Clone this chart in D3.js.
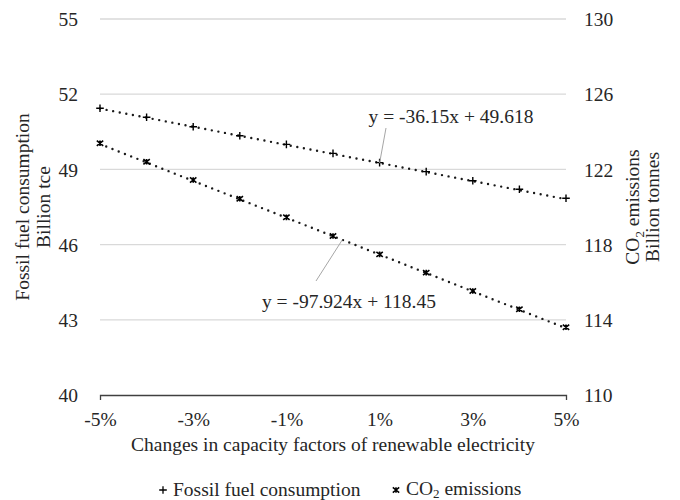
<!DOCTYPE html>
<html>
<head>
<meta charset="utf-8">
<script src="https://cdn.jsdelivr.net/npm/d3@7"></script>
<style>
  html, body { margin: 0; padding: 0; background: #fff; }
</style>
</head>
<body>
<svg id="chart" width="680" height="500"></svg>
<script>
// Change in renewable capacity factor (fraction)
const changes = [-0.05, -0.04, -0.03, -0.02, -0.01, 0, 0.01, 0.02, 0.03, 0.04, 0.05];
// Fossil fuel consumption, billion tce (left axis)
const fossilFuel = [51.44, 51.08, 50.70, 50.34, 50.00, 49.64, 49.27, 48.91, 48.55, 48.21, 47.85];
// CO2 emissions, billion tonnes (right axis)
const co2Emissions = [123.39, 122.41, 121.44, 120.44, 119.45, 118.46, 117.48, 116.51, 115.53, 114.56, 113.60];

// Linear trend coefficients as printed on the chart
const fossilTrend = [-36.15, 49.618];
const co2Trend = [-97.924, 118.45];

const xTicks = [-0.05, -0.03, -0.01, 0.01, 0.03, 0.05];
const leftTicks = [40, 43, 46, 49, 52, 55];
const rightTicks = [110, 114, 118, 122, 126, 130];

const FONT = "'Liberation Serif', 'Times New Roman', serif";
const FS = "19.5px";
const INK = "#262626";

const svg = d3.select("#chart")
  .attr("font-family", FONT)
  .style("font-family", FONT);
const plot = { left: 100, right: 566, top: 19, bottom: 395 };

const x = d3.scaleLinear().domain([-0.05, 0.05]).range([plot.left, plot.right]);
const yL = d3.scaleLinear().domain([40, 55]).range([plot.bottom, plot.top]);
const yR = d3.scaleLinear().domain([110, 130]).range([plot.bottom, plot.top]);

function styleText(sel) {
  return sel.attr("font-family", FONT).style("font-family", FONT)
    .style("font-size", FS).attr("fill", INK);
}

// Gridlines
svg.append("g").selectAll("line")
  .data(leftTicks.slice(1))
  .join("line")
  .attr("x1", plot.left).attr("x2", plot.right)
  .attr("y1", d => yL(d)).attr("y2", d => yL(d))
  .attr("stroke", "#d9d9d9").attr("stroke-width", 1.3);

// Bottom axis with end ticks only
const xAxis = svg.append("g")
  .attr("transform", `translate(0,${plot.bottom})`)
  .call(d3.axisBottom(x).tickValues(xTicks).tickSizeInner(0).tickSizeOuter(5)
    .tickFormat(d => Math.round(d * 100) + "%"));
xAxis.attr("font-family", FONT);
xAxis.select(".domain").attr("stroke", "#404040").attr("stroke-width", 1.3);
xAxis.selectAll(".tick line").remove();
styleText(xAxis.selectAll(".tick text").attr("y", 31).attr("dy", 0));

// Left axis labels
const lAxis = svg.append("g")
  .attr("transform", `translate(${plot.left},0)`)
  .call(d3.axisLeft(yL).tickValues(leftTicks).tickSize(0).tickPadding(22));
lAxis.attr("font-family", FONT);
lAxis.select(".domain").remove();
styleText(lAxis.selectAll(".tick text").attr("dy", "0.34em"));

// Right axis labels
const rAxis = svg.append("g")
  .attr("transform", `translate(${plot.right},0)`)
  .call(d3.axisRight(yR).tickValues(rightTicks).tickSize(0).tickPadding(18));
rAxis.attr("font-family", FONT);
rAxis.select(".domain").remove();
styleText(rAxis.selectAll(".tick text").attr("dy", "0.34em"));

// Trend lines (round dots)
function trendLine(coef, yScale) {
  const [m, b] = coef;
  const pts = d3.extent(changes).map(c => [x(c), yScale(m * c + b)]);
  svg.append("path")
    .attr("d", d3.line()(pts))
    .attr("fill", "none")
    .attr("stroke", "#1a1a1a")
    .attr("stroke-width", 2.4)
    .attr("stroke-linecap", "round")
    .attr("stroke-dasharray", "0 6.7");
}
trendLine(fossilTrend, yL);
trendLine(co2Trend, yR);

// Marker shapes
const plusPath = "M-3.8,0H3.8M0,-3.8V3.8";
const starPath = "M-3.2,-2.6L3.2,2.6M-3.2,2.6L3.2,-2.6M0,-2.8V2.8";

svg.append("g").selectAll("path")
  .data(changes.map((c, i) => [c, fossilFuel[i]]))
  .join("path")
  .attr("transform", d => `translate(${x(d[0])},${yL(d[1])})`)
  .attr("d", plusPath)
  .attr("stroke", "#000").attr("stroke-width", 1.4).attr("fill", "none");

svg.append("g").selectAll("path")
  .data(changes.map((c, i) => [c, co2Emissions[i]]))
  .join("path")
  .attr("transform", d => `translate(${x(d[0])},${yR(d[1])})`)
  .attr("d", starPath)
  .attr("stroke", "#000").attr("stroke-width", 1.6).attr("fill", "none");

// Trend equation labels with leader lines
function equation(coef, yScale, at, label, lead) {
  const [m, b] = coef;
  svg.append("line")
    .attr("x1", lead[0]).attr("y1", lead[1])
    .attr("x2", x(at)).attr("y2", yScale(m * at + b))
    .attr("stroke", "#a6a6a6").attr("stroke-width", 1);
  styleText(svg.append("text"))
    .attr("x", label[0]).attr("y", label[1])
    .attr("text-anchor", "middle")
    .text(`y = ${m}x + ${b}`);
}
equation(fossilTrend, yL, 0.01, [451, 123], [386, 128]);
equation(co2Trend, yR, 0.002, [349, 308], [316, 281]);

// Axis titles
styleText(svg.append("text"))
  .attr("x", 333).attr("y", 451)
  .attr("text-anchor", "middle")
  .text("Changes in capacity factors of renewable electricity");

const lt = styleText(svg.append("text"))
  .attr("transform", "translate(0,207) rotate(-90)")
  .attr("text-anchor", "middle");
lt.append("tspan").attr("x", 0).attr("y", 29).text("Fossil fuel consumption");
lt.append("tspan").attr("x", 0).attr("y", 50).text("Billion tce");

const rt = styleText(svg.append("text"))
  .attr("transform", "translate(0,207) rotate(-90)")
  .attr("text-anchor", "middle");
const r1 = rt.append("tspan").attr("x", 0).attr("y", 639);
r1.append("tspan").text("CO");
r1.append("tspan").attr("dy", 5).style("font-size", "13px").text("2");
r1.append("tspan").attr("dy", -5).text(" emissions");
rt.append("tspan").attr("x", 0).attr("y", 659).text("Billion tonnes");

// Legend
const lg = svg.append("g");
lg.append("path").attr("transform", "translate(163,490)").attr("d", plusPath)
  .attr("stroke", "#000").attr("stroke-width", 1.3).attr("fill", "none");
styleText(lg.append("text")).attr("x", 173).attr("y", 496)
  .text("Fossil fuel consumption");
lg.append("path").attr("transform", "translate(396,490)").attr("d", starPath)
  .attr("stroke", "#000").attr("stroke-width", 1.5).attr("fill", "none");
const lt2 = styleText(lg.append("text")).attr("x", 406).attr("y", 495);
lt2.append("tspan").text("CO");
lt2.append("tspan").attr("dy", 3).style("font-size", "13px").text("2");
lt2.append("tspan").attr("dy", -3).text(" emissions");
</script>
</body>
</html>
